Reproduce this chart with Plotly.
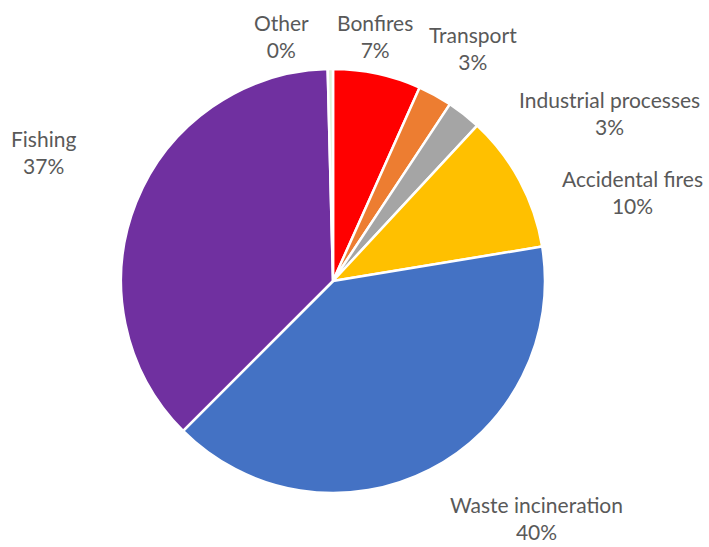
import plotly.graph_objects as go

labels = ["Bonfires", "Transport", "Industrial processes", "Accidental fires",
          "Waste incineration", "Fishing", "Other"]
values = [6.7, 2.6, 2.6, 10.5, 40.1, 37.1, 0.4]
colors = ["#FF0000", "#ED7D31", "#A5A5A5", "#FFC000", "#4472C4", "#7030A0", "#E2F0D9"]

# label anchor positions (pixels in a 709x547 canvas), layout only
label_pos = {
    "Other": (281, 36),
    "Bonfires": (375, 36),
    "Transport": (473, 48),
    "Industrial processes": (609, 113),
    "Accidental fires": (632, 192),
    "Waste incineration": (536, 518),
    "Fishing": (43, 152),
}

W, H = 709, 547
total = sum(values)

fig = go.Figure(go.Pie(
    labels=labels, values=values, sort=False, direction="clockwise", rotation=0,
    marker=dict(colors=colors, line=dict(color="white", width=2.5)),
    textinfo="none", hoverinfo="label+percent", showlegend=False,
    domain=dict(x=[(333 - 212) / W, (333 + 212) / W], y=[(H - 281 - 212) / H, (H - 281 + 212) / H]),
))

anns = []
for lab, v in zip(labels, values):
    x, y = label_pos[lab]
    anns.append(dict(
        x=x / W, y=1 - y / H, xref="paper", yref="paper", showarrow=False,
        text=f"{lab}<br>{round(100 * v / total):.0f}%", align="center",
        font=dict(family="Lato, Open Sans, sans-serif", size=21, color="#595959"),
        xanchor="center", yanchor="middle",
    ))

fig.update_layout(
    width=W, height=H, margin=dict(l=0, r=0, t=0, b=0),
    paper_bgcolor="white", plot_bgcolor="white", annotations=anns,
)
fig.write_html("out.html", config={"displayModeBar": False},
               post_script="document.body.style.margin='0';")
